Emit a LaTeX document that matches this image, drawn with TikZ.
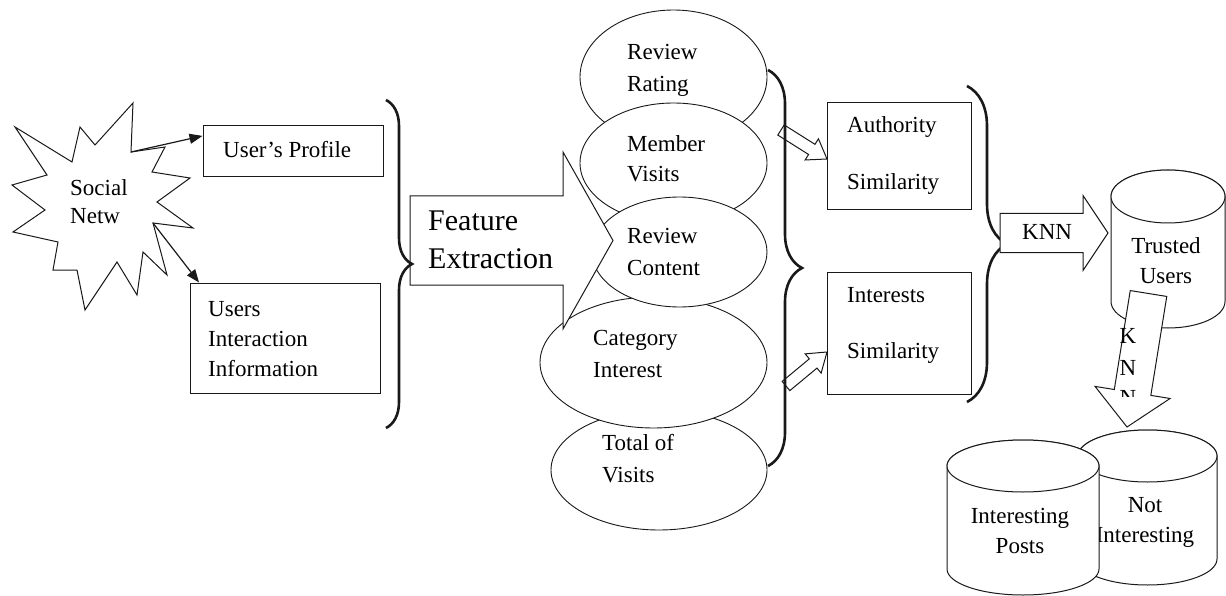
\documentclass[tikz,border=0pt]{standalone}
\usepackage{fontspec}
\setmainfont{Liberation Serif}
\usepackage{tikz}
\usetikzlibrary{positioning,calc,shapes.geometric,decorations.pathreplacing,arrows.meta}
\definecolor{InkBlack}{RGB}{25,25,25}
\tikzset{
    box/.style={rectangle, draw=InkBlack, line width=1pt, fill=white, inner sep=0pt},
    oval/.style={ellipse, draw=InkBlack, line width=0.9pt, fill=white, inner sep=0pt},
    lbl/.style={anchor=base west, align=left, inner sep=0pt, font=\fontsize{23}{31}\selectfont},
    clbl/.style={anchor=base, align=center, inner sep=0pt, font=\fontsize{23}{30}\selectfont},
    curly/.style={decorate, decoration={brace, amplitude=#1}, line width=2.6pt, draw=InkBlack},
    hollow/.style={draw=InkBlack, line width=1pt, fill=white, line join=miter},
    ptr/.style={draw=InkBlack, line width=1.2pt, -{Triangle[length=13pt, width=10pt]}}
}
% block arrow: start, tip, shaft half width, head half width, head length
\newcommand{\blockarrow}[5]{%
    \coordinate (ba-h) at ($(#2)!#5!(#1)$);
    \draw[hollow] ($(#1)!#3!90:(#2)$) -- ($(ba-h)!#3!90:(#2)$) -- ($(ba-h)!#4!90:(#2)$)
        -- (#2) -- ($(ba-h)!#4!-90:(#2)$) -- ($(ba-h)!#3!-90:(#2)$) -- ($(#1)!#3!-90:(#2)$) -- cycle;
}
% database: centre x, top centre y, x radius, y radius, bottom centre y
\newcommand{\dbcyl}[5]{%
    \draw[hollow] ({#1-#3},#2) -- ({#1-#3},#5) arc[start angle=180, end angle=360, x radius=#3pt, y radius=#4pt]
        -- ({#1+#3},#2) arc[start angle=0, end angle=180, x radius=#3pt, y radius=#4pt] -- cycle;
    \draw[hollow] (#1,#2) ellipse[x radius=#3pt, y radius=#4pt];
}
\begin{document}
\begin{tikzpicture}[x=1pt, y=1pt]
    \useasboundingbox (0,0) rectangle (1226,-596);

    % source (labels sit on their last line)
    \draw[hollow] (15,-127) -- (72,-162) -- (80,-127) -- (95,-145) -- (133,-103)
        -- (131,-152) coordinate (sn-up) -- (165,-147) -- (152,-172) -- (190,-178) -- (157,-202)
        -- (193,-228) -- (153,-223) coordinate (sn-dn) -- (167,-275) -- (143,-252) -- (137,-295)
        -- (117,-262) -- (85,-310) -- (77,-270) -- (53,-270) -- (58,-242) -- (13,-232)
        -- (45,-210) -- (12,-185) -- (47,-175) -- cycle;
    \node[lbl] (social) at (70,-223) {Social\\[-3pt]Netw};

    % raw data
    \node[box, minimum width=180pt, minimum height=51pt] (up) at (293,-151.5) {};
    \node[lbl] (up-t) at (223,-158) {User's Profile};
    \node[box, minimum width=190pt, minimum height=110pt] (ui) at (285,-338) {};
    \node[lbl] (ui-t) at (208,-376) {Users\\[-1pt]Interaction\\[-1pt]Information};
    \draw[ptr] (sn-up) -- ($(up.north west)!0.2!(up.south west)$);
    \draw[ptr] (sn-dn) -- ($(ui.north west)!0.05!(ui.north east)$);

    % features
    \node[oval, minimum width=187pt, minimum height=134pt] (rr) at (673.5,-77) {};
    \node[oval, minimum width=187pt, minimum height=120pt] (mv) at (673.5,-163) {};
    \node[oval, minimum width=216pt, minimum height=120pt] (tv) at (659,-470) {};
    \node[oval, minimum width=227pt, minimum height=131pt] (ci) at (653.5,-362.5) {};
    \node[oval, minimum width=175pt, minimum height=110pt] (rc) at (679.5,-252) {};
    \node[lbl] (rr-t) at (627,-92) {Review\\[1pt]Rating};
    \node[lbl] (mv-t) at (627,-182) {Member\\[-1pt]Visits};
    \node[lbl] (rc-t) at (627,-275) {Review\\[1pt]Content};
    \node[lbl] (ci-t) at (593,-377) {Category\\[1pt]Interest};
    \node[lbl] (tv-t) at (602,-482) {Total of\\[1pt]Visits};

    \coordinate (fe-s) at (410,-240.5);
    \coordinate (fe-e) at (613,-240.5);
    \blockarrow{fe-s}{fe-e}{44.5pt}{88.5pt}{50pt}
    \node[lbl, font=\fontsize{30}{38}\selectfont] (fe-t) at (428,-268) {Feature\\Extraction};
    \draw[curly=26pt] (386,-100) -- (386,-428);

    % similarity
    \coordinate (as-s) at (781,-130);
    \coordinate (as-e) at (827,-159);
    \coordinate (is-s) at (786,-386);
    \coordinate (is-e) at (827,-352);
    \blockarrow{as-s}{as-e}{6pt}{12.5pt}{18pt}
    \blockarrow{is-s}{is-e}{6pt}{12.5pt}{18pt}
    \draw[curly=34pt] (768,-70) -- (768,-466);
    \node[box, minimum width=144pt, minimum height=107pt] (auth) at (899,-156.5) {};
    \node[lbl] (auth-t) at (847,-190) {Authority\\[26pt]Similarity};
    \node[box, minimum width=144pt, minimum height=122pt] (int) at (899,-333) {};
    \node[lbl] (int-t) at (847,-358) {Interests\\[25pt]Similarity};
    \draw[curly=40pt] (967,-86) -- (967,-402);

    % trusted users
    \coordinate (knn-s) at (1000,-233);
    \coordinate (knn-e) at (1108,-233);
    \blockarrow{knn-s}{knn-e}{19.5pt}{37.5pt}{25pt}
    \node[lbl] (knn-t) at (1022,-240) {KNN};
    \dbcyl{1168}{-196.5}{57}{26.5}{-301.5}
    \node[clbl] (tu-t) at (1166,-283) {Trusted\\Users};

    \coordinate (kd-s) at (1148.5,-293.5);
    \coordinate (kd-e) at (1127,-427);
    \blockarrow{kd-s}{kd-e}{18.5pt}{38pt}{35pt}
    \begin{scope}
        \clip (1090,-285) rectangle (1180,-396);
        \node[clbl] (kd-t) at (1128,-405) {K\\[2pt]N\\[0pt]N};
    \end{scope}

    % posts
    \dbcyl{1147.5}{-456}{69.5}{26}{-559}
    \node[clbl] (ni-t) at (1145,-542) {Not\\Interesting};
    \dbcyl{1023}{-466}{76}{26}{-569}
    \node[clbl] (ip-t) at (1020,-553) {Interesting\\Posts};
\end{tikzpicture}
\end{document}
